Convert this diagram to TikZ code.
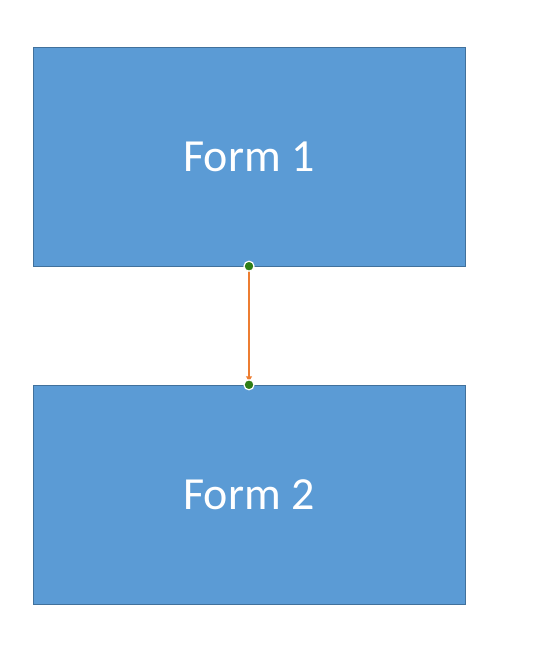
\documentclass[tikz,border=0pt]{standalone}
\usepackage{fontspec}
\setmainfont{Carlito}
\usetikzlibrary{arrows.meta}
\definecolor{formfill}{HTML}{5B9BD5}
\definecolor{formline}{HTML}{41719C}
\definecolor{linkline}{HTML}{ED7D31}
\definecolor{pin}{HTML}{2E7D16}
\begin{document}
\begin{tikzpicture}
  [x=1pt,y=-1pt,
   form/.style={draw=formline,fill=formfill,minimum width=432pt,minimum height=219pt,
     inner sep=0pt,text=white,font=\fontsize{46}{50}\selectfont},
   pindot/.style={circle,fill=pin,draw=white,line width=1.2pt,inner sep=0pt,minimum size=10pt}]
  \useasboundingbox (0,0) rectangle (532,671);
  \node[form] (f1) at (249,156.5) {Form 1};
  \node[form] (f2) at (249,494.5) {Form 2};

  \draw[linkline,line width=1.4pt,shorten >=3.5pt,-{Triangle[length=5pt,width=6pt]}] (f1.south) -- (f2.north);
  \foreach \p in {f1.south,f2.north}
    \node[pindot] at (\p) {};

\end{tikzpicture}
\end{document}
